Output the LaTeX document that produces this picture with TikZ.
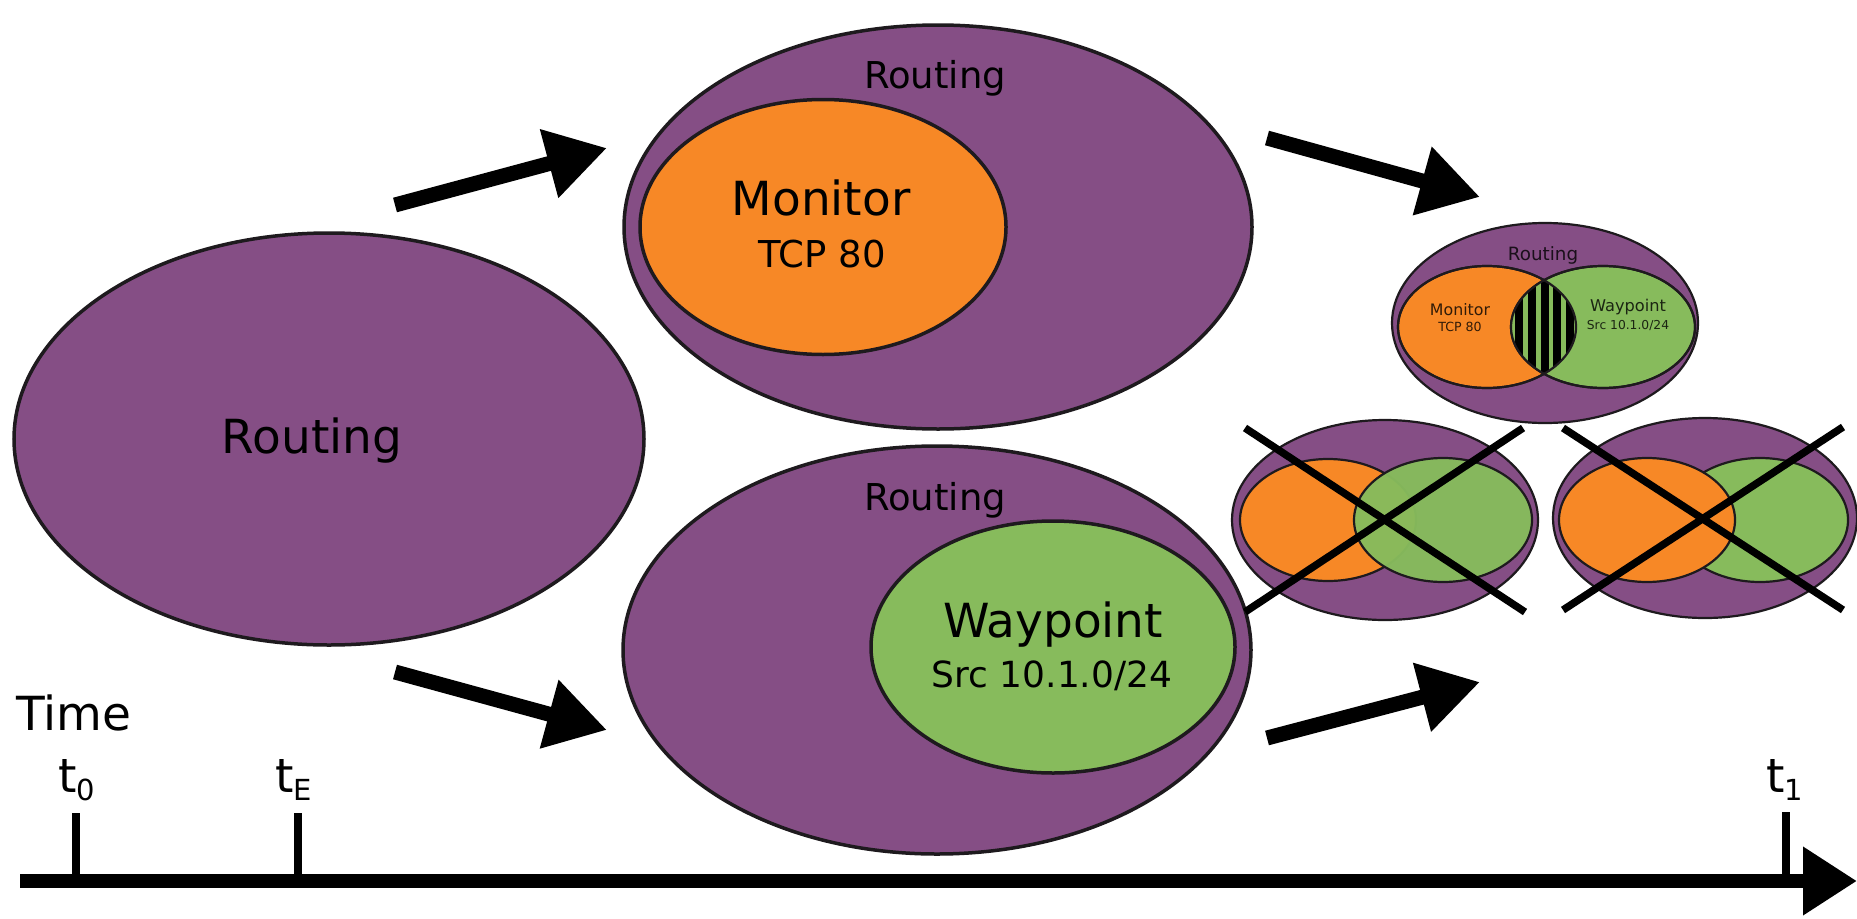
\documentclass[tikz,border=0pt]{standalone}
\usepackage{fontspec}
\setmainfont{DejaVu Sans}
\usetikzlibrary{shapes.geometric,arrows.meta}
\definecolor{rpurple}{RGB}{133,78,133}
\definecolor{rorange}{RGB}{247,136,38}
\definecolor{rgreen}{RGB}{135,187,92}
\definecolor{rline}{RGB}{30,26,30}
\newcommand\mysub[1]{\raisebox{-8pt}{\fontsize{29}{29}\selectfont #1}}
\begin{document}
\begin{tikzpicture}[x=1pt,y=-1pt,
  ell/.style={ellipse, draw=rline, inner sep=0pt, outer sep=0pt},
  bigline/.style={line width=3.5pt},
  smallline/.style={line width=2.2pt},
  fs/.style={font=\fontsize{#1}{#1}\selectfont},
  lbl/.style={anchor=base, text=black, inner sep=0pt},
  slbl/.style={anchor=base, text=black, text opacity=0.8, inner sep=0pt},
  fat/.style={line width=15pt, -{Triangle[length=60pt,width=67pt]}},
  crossline/.style={line width=7.5pt, black},
  tick/.style={line width=8pt, black},
]
\useasboundingbox (0,0) rectangle (1857,918);
\fill[white] (0,0) rectangle (1857,918);

% ---- big ellipses
\node[ell, bigline, fill=rpurple, minimum width=630pt, minimum height=412pt] (left) at (329,439) {};
\node[lbl, fs=47] (leftlbl) at (312,453) {Routing};

\node[ell, bigline, fill=rpurple, minimum width=628pt, minimum height=404pt] (top) at (938,227) {};
\node[ell, bigline, fill=rorange, minimum width=366pt, minimum height=255pt] (mon) at (823,227) {};
\node[lbl, fs=37] (toplbl) at (935,88) {Routing};
\node[lbl, fs=47] (monlbl) at (821,215) {Monitor};
\node[lbl, fs=37] (tcplbl) at (822,267) {TCP 80};

\node[ell, bigline, fill=rpurple, minimum width=628pt, minimum height=408pt] (bot) at (937,650) {};
\node[ell, bigline, fill=rgreen, minimum width=364pt, minimum height=252pt] (way) at (1053,647) {};
\node[lbl, fs=37] (botlbl) at (935,510) {Routing};
\node[lbl, fs=47] (waylbl) at (1053,637) {Waypoint};
\node[lbl, fs=36] (srclbl) at (1052,687) {Src 10.1.0/24};

% ---- arrows
\coordinate (a1s) at (395,205); \coordinate (a1e) at (607,148);
\coordinate (a2s) at (395,672); \coordinate (a2e) at (607,730);
\coordinate (a3s) at (1267,138); \coordinate (a3e) at (1480,197);
\coordinate (a4s) at (1267,738); \coordinate (a4e) at (1480,682);
\draw[fat] (a1s) -- (a1e);
\draw[fat] (a2s) -- (a2e);
\draw[fat] (a3s) -- (a3e);
\draw[fat] (a4s) -- (a4e);

% ---- small bottom-left (green over orange)
\node[ell, smallline, fill=rpurple, minimum width=306pt, minimum height=200pt] (bl) at (1385,520) {};
\node[ell, smallline, fill=rorange, minimum width=176pt, minimum height=122pt] (blo) at (1328,520) {};
\node[ell, smallline, fill=rgreen, fill opacity=0.97, minimum width=178pt, minimum height=124pt] (blg) at (1443,520) {};

% ---- small bottom-right (orange over green)
\node[ell, smallline, fill=rpurple, minimum width=304pt, minimum height=200pt] (br) at (1705,518) {};
\node[ell, smallline, fill=rgreen, minimum width=176pt, minimum height=124pt] (brg) at (1760,520) {};
\node[ell, smallline, fill=rorange, minimum width=176pt, minimum height=124pt] (bro) at (1647,520) {};

% ---- small top (lens hatched)
\node[ell, smallline, fill=rpurple, minimum width=306pt, minimum height=200pt] (tr) at (1545,323) {};
\node[ell, smallline, fill=rorange, minimum width=178pt, minimum height=122pt] (tro) at (1487,327) {};
\node[ell, smallline, fill=rgreen, minimum width=184pt, minimum height=122pt] (trg) at (1603,327) {};
\begin{scope}
  \clip (1487,327) ellipse [x radius=89, y radius=61];
  \clip (1603,327) ellipse [x radius=92, y radius=61];
  \fill[rgreen] (1500,260) rectangle (1590,400);
  \foreach \k in {-3,...,3}
    \fill[black] ({1544.5+12.8*\k-4},260) rectangle ++(8,140);
\end{scope}
\draw[smallline, rline] (1487,327) ellipse [x radius=89, y radius=61];
\draw[smallline, rline] (1603,327) ellipse [x radius=92, y radius=61];
\node[slbl, fs=18.3] (trlbl) at (1543,260) {Routing};
\node[slbl, fs=15.8] (trmon) at (1460,315) {Monitor};
\node[slbl, fs=12.6] (trtcp) at (1460,331) {TCP 80};
\node[slbl, fs=16.2] (trway) at (1628,311) {Waypoint};
\node[slbl, fs=12.3] (trsrc) at (1628,329) {Src 10.1.0/24};

% ---- crosses
\coordinate (c1a) at (1245,428); \coordinate (c1b) at (1525,612);
\coordinate (c2a) at (1523,428); \coordinate (c2b) at (1245,612);
\coordinate (c3a) at (1563,428); \coordinate (c3b) at (1843,610);
\coordinate (c4a) at (1843,427); \coordinate (c4b) at (1563,610);
\draw[crossline] (c1a) -- (c1b);
\draw[crossline] (c2a) -- (c2b);
\draw[crossline] (c3a) -- (c3b);
\draw[crossline] (c4a) -- (c4b);

% ---- time axis
\coordinate (ax0) at (20,881); \coordinate (ax1) at (1857,881);
\coordinate (tk0) at (76,813); \coordinate (tkE) at (298,813); \coordinate (tk1) at (1786,812);
\draw[tick] (tk0) -- (tk0 |- ax0);
\draw[tick] (tkE) -- (tkE |- ax0);
\draw[tick] (tk1) -- (tk1 |- ax0);
\draw[line width=14pt, -{Triangle[length=54pt,width=65pt]}] (ax0) -- (ax1);
\node[lbl, anchor=base west, fs=47] (time) at (16,730) {Time};
\node[lbl, anchor=base west, fs=47] (t0) at (58,792) {t\mysub{0}};
\node[lbl, anchor=base west, fs=47] (tE) at (275,792) {t\mysub{E}};
\node[lbl, anchor=base west, fs=47] (t1) at (1766,792) {t\mysub{1}};
\end{tikzpicture}
\end{document}
